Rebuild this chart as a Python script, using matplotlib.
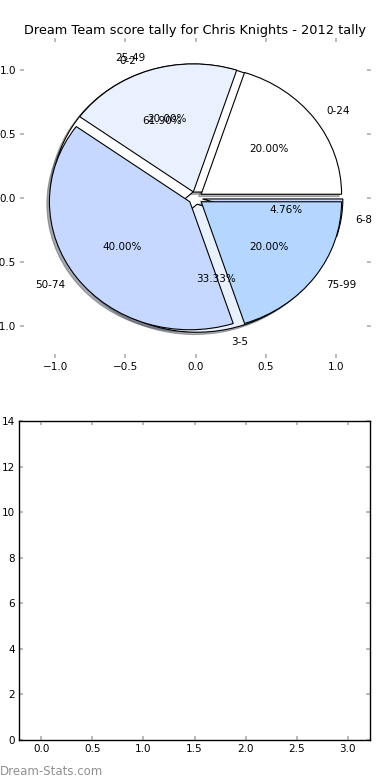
import matplotlib
matplotlib.use("Agg")
import matplotlib.pyplot as plt

# Data
title = "Dream Team score tally for Chris Knights - 2012 tally"
score_labels = ['0-24', '25-49', '50-74', '75-99']
score_counts = [1, 1, 2, 1]
margin_labels = ['0-2', '3-5', '6-8']
margin_counts = [13, 7, 1]
pie_colors = ['#FFFFFF', '#E9F1FF', '#C6D8FF', '#B4D6FF']
pie_ticks = [-1.0, -0.5, 0.0, 0.5, 1.0]
bar_xticks = [0.0, 0.5, 1.0, 1.5, 2.0, 2.5, 3.0]
bar_yticks = [0, 2, 4, 6, 8, 10, 12, 14]

plt.rcParams['font.family'] = ['DejaVu Sans']
plt.rcParams['font.size'] = 7.5

fig = plt.figure(figsize=(3.9, 7.8), dpi=100)
ax1 = fig.add_axes([20/390, 1-358/780, 351/390, 320/780])
ax2 = fig.add_axes([19/390, 1-740/780, 351/390, 319/780])

wp = dict(edgecolor='black', linewidth=0.8)
shadow_kw = dict(ox=-0.013, oy=-0.013, shade=0.6)
ax1.pie(margin_counts, labels=margin_labels, colors=pie_colors[:3],
        explode=[0.05]*len(margin_counts), autopct='%1.2f%%', shadow=shadow_kw,
        wedgeprops=wp)
ax1.pie(score_counts, labels=score_labels, colors=pie_colors,
        explode=[0.05]*len(score_counts), autopct='%1.2f%%', shadow=shadow_kw,
        wedgeprops=wp)
ax1.set_aspect('auto')
ax1.set_xlim(-1.25, 1.25)
ax1.set_ylim(-1.25, 1.25)
ax1.set_xticks(pie_ticks)
ax1.set_yticks(pie_ticks)
ax1.set_frame_on(False)
ax1.set_title(title, fontsize=9.3, pad=3)

ax2.set_xlim(-0.22, 3.22)
ax2.set_ylim(0, 14)
ax2.set_xticks(bar_xticks)
ax2.set_yticks(bar_yticks)
for sp in ax2.spines.values():
    sp.set_linewidth(1.0)

for ax in (ax1, ax2):
    ax.tick_params(direction='in', length=3, width=1.3, color='#b5b5b5',
                   top=True, right=True, labelsize=7.5, pad=3)

fig.text(0.0, 2/780, 'Dream-Stats.com', color='#909090', fontsize=8.5,
         ha='left', va='bottom')

fig.savefig('out.png', dpi=100)
